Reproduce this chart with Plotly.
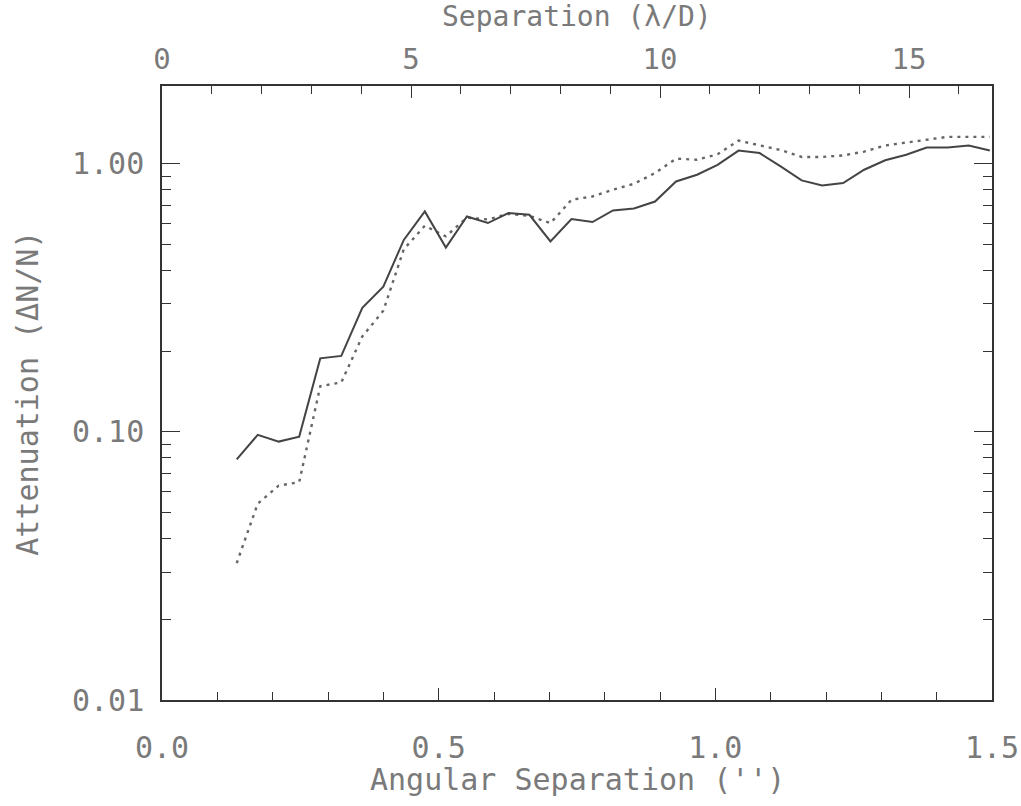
import plotly.graph_objects as go

# Angular separation (arcsec) of the sampled points
sep_arcsec = [0.135, 0.173, 0.211, 0.248, 0.286, 0.324, 0.362, 0.400, 0.437, 0.475,
              0.513, 0.551, 0.589, 0.626, 0.664, 0.702, 0.740, 0.778, 0.815, 0.853,
              0.891, 0.929, 0.967, 1.004, 1.042, 1.080, 1.118, 1.156, 1.193, 1.231,
              1.269, 1.307, 1.345, 1.382, 1.420, 1.458, 1.496]

# Solid curve
atten_solid = [0.079, 0.0975, 0.092, 0.096, 0.188, 0.192, 0.29, 0.348, 0.52, 0.664,
               0.487, 0.636, 0.601, 0.655, 0.645, 0.513, 0.622, 0.606, 0.67, 0.681,
               0.723, 0.859, 0.91, 0.99, 1.12, 1.096, 0.977, 0.867, 0.83, 0.847,
               0.95, 1.03, 1.08, 1.15, 1.15, 1.17, 1.12]

# Dotted curve
atten_dotted = [0.0324, 0.054, 0.063, 0.065, 0.148, 0.153, 0.227, 0.283, 0.48, 0.587,
                0.536, 0.63, 0.62, 0.65, 0.64, 0.60, 0.734, 0.755, 0.80, 0.842,
                0.923, 1.045, 1.035, 1.085, 1.22, 1.17, 1.125, 1.06, 1.06, 1.074,
                1.11, 1.17, 1.20, 1.23, 1.26, 1.26, 1.26]

x_tickvals = [0.0, 0.5, 1.0, 1.5]
x_ticktext = ["0.0", "0.5", "1.0", "1.5"]
y_tickvals = [0.01, 0.1, 1.0]
y_ticktext = ["0.01", "0.10", "1.00"]
y_minor = [0.02, 0.03, 0.04, 0.05, 0.06, 0.07, 0.08, 0.09,
           0.2, 0.3, 0.4, 0.5, 0.6, 0.7, 0.8, 0.9]
top_tickvals = [0, 5, 10, 15]
top_ticktext = ["0", "5", "10", "15"]
LAMBDA_OVER_D_ARCSEC = 0.09
X_MAX = 1.5

FONT = "DejaVu Sans Mono"
TXT = "#7a7a7a"
AX = "#333333"

fig = go.Figure()
fig.add_trace(go.Scatter(x=sep_arcsec, y=atten_dotted, mode="lines",
                         line=dict(color="#666666", width=2.4, dash="3px,5px"),
                         showlegend=False))
fig.add_trace(go.Scatter(x=sep_arcsec, y=atten_solid, mode="lines",
                         line=dict(color="#444444", width=2),
                         showlegend=False))
# invisible trace so the top axis is drawn
fig.add_trace(go.Scatter(x=[0], y=[1.0], xaxis="x2", mode="lines",
                         line=dict(width=0), opacity=0, showlegend=False,
                         hoverinfo="skip"))

tickfont = dict(family=FONT, size=30, color=TXT, weight=200)
toptickfont = dict(family=FONT, size=29, color=TXT, weight=200)
titlefont = dict(family=FONT, size=30, color=TXT, weight=200)
toptitlefont = dict(family=FONT, size=28, color=TXT, weight=200)

fig.update_layout(
    width=1021, height=806,
    margin=dict(l=162, r=29, t=86, b=106, autoexpand=False),
    paper_bgcolor="white", plot_bgcolor="white",
    xaxis=dict(range=[0, X_MAX], tickmode="array", tickvals=x_tickvals,
               ticktext=x_ticktext, ticks="inside", ticklen=12, tickwidth=1.2,
               tickcolor=AX, showline=True, linecolor=AX, linewidth=1.5,
               mirror=False, showgrid=False, zeroline=False, automargin=False,
               tickfont=tickfont, ticklabelstandoff=20,
               minor=dict(dtick=0.1, tick0=0, ticks="inside", ticklen=8,
                          tickcolor=AX, showgrid=False)),
    xaxis2=dict(range=[0, X_MAX / LAMBDA_OVER_D_ARCSEC], overlaying="x",
                side="top", anchor="y", tickmode="array", tickvals=top_tickvals,
                ticktext=top_ticktext, ticks="inside", ticklen=12, tickwidth=1.2,
                tickcolor=AX, showline=True, linecolor=AX, linewidth=1.5,
                showgrid=False, zeroline=False, tickfont=toptickfont,
                automargin=False, ticklabelstandoff=4,
                minor=dict(dtick=1, tick0=0, ticks="inside", ticklen=8,
                           tickcolor=AX, showgrid=False)),
    yaxis=dict(type="log", range=[-2, 0.29], tickmode="array",
               tickvals=y_tickvals, ticktext=y_ticktext, ticks="inside",
               ticklen=18, tickwidth=1.2, tickcolor=AX, showline=True,
               linecolor=AX, linewidth=1.5, mirror="ticks", showgrid=False,
               zeroline=False, automargin=False, tickfont=tickfont,
               ticklabelstandoff=10,
               minor=dict(tickmode="array", tickvals=y_minor, ticks="inside",
                          ticklen=9, tickcolor=AX, showgrid=False)),
    annotations=[
        dict(text="Angular Separation ('')", xref="paper", yref="paper",
             x=0.5, y=-0.13, xanchor="center", yanchor="middle",
             showarrow=False, font=titlefont),
        dict(text="Separation (λ/D)", xref="paper", yref="paper",
             x=0.5, y=1.0, yshift=88, xanchor="center", yanchor="top",
             showarrow=False, font=toptitlefont),
        dict(text="Attenuation (ΔN/N)", xref="paper", yref="paper",
             x=-0.163, y=0.5, xanchor="center", yanchor="middle", textangle=-90,
             showarrow=False, font=titlefont),
    ],
)

fig.write_html("out.html")
